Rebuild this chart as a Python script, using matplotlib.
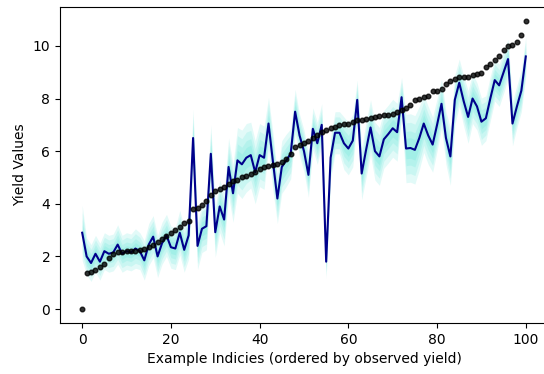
import matplotlib.pyplot as plt
import numpy as np

# observed yields, sorted ascending
observed = [0.0, 1.37, 1.42, 1.5, 1.58, 1.7, 1.93, 2.1, 2.15, 2.17,
            2.19, 2.2, 2.22, 2.25, 2.3, 2.35, 2.45, 2.55, 2.65, 2.78,
            2.9, 3.02, 3.13, 3.27, 3.33, 3.79, 3.84, 3.95, 4.1, 4.33,
            4.5, 4.55, 4.62, 4.75, 4.85, 4.92, 5.0, 5.05, 5.12, 5.2,
            5.33, 5.4, 5.45, 5.48, 5.52, 5.57, 5.7, 5.9, 6.17, 6.22,
            6.3, 6.4, 6.5, 6.63, 6.72, 6.82, 6.88, 6.93, 6.98, 7.02,
            7.05, 7.1, 7.17, 7.2, 7.23, 7.27, 7.3, 7.33, 7.36, 7.38,
            7.42, 7.48, 7.55, 7.65, 7.75, 7.95, 8.0, 8.05, 8.1, 8.28,
            8.3, 8.35, 8.55, 8.65, 8.75, 8.8, 8.82, 8.83, 8.88, 8.93,
            8.98, 9.2, 9.3, 9.47, 9.6, 9.85, 9.98, 10.05, 10.13, 10.42,
            10.95]

# mean prediction
predicted = [2.9, 2.0, 1.75, 2.1, 1.8, 2.2, 2.1, 2.15, 2.45, 2.1,
             2.2, 2.15, 2.3, 2.2, 1.85, 2.45, 2.75, 2.0, 2.5, 2.8,
             2.35, 2.3, 2.9, 2.25, 2.8, 6.5, 2.4, 3.05, 3.15, 5.9,
             2.92, 3.9, 3.4, 5.4, 4.4, 5.65, 5.5, 5.75, 5.85, 5.2,
             5.85, 5.75, 7.05, 5.6, 4.2, 5.4, 5.65, 5.9, 7.5, 6.6,
             6.0, 5.1, 6.85, 6.3, 7.0, 1.8, 5.75, 6.7, 6.7, 6.3,
             6.1, 6.4, 7.95, 5.15, 6.05, 6.9, 6.0, 5.8, 6.45, 6.65,
             6.87, 6.72, 8.05, 6.1, 6.12, 6.05, 6.5, 7.05, 6.6, 6.25,
             7.0, 7.8, 6.5, 5.8, 7.95, 8.6, 7.9, 7.3, 8.0, 7.7,
             7.12, 7.25, 8.0, 8.7, 8.5, 9.0, 9.5, 7.05, 7.7, 8.3,
             9.6]

# half width of the outer uncertainty band
spread = [1.05, 0.7, 0.7, 0.7, 0.7, 0.7, 0.7, 0.7, 0.75, 0.7,
          0.7, 0.7, 0.75, 0.7, 0.75, 0.8, 0.8, 0.8, 0.8, 0.8,
          0.8, 0.8, 0.85, 0.85, 0.9, 1.1, 0.9, 0.9, 0.9, 1.1,
          0.95, 1.0, 1.0, 1.1, 1.1, 1.25, 1.3, 1.3, 1.25, 1.2,
          1.2, 1.2, 1.0, 1.1, 0.95, 1.0, 1.0, 0.95, 0.85, 0.8,
          0.8, 0.85, 0.8, 0.8, 0.8, 0.65, 0.8, 0.8, 0.8, 1.0,
          1.0, 1.0, 0.75, 1.0, 1.05, 1.05, 1.1, 1.1, 1.1, 1.1,
          1.1, 1.1, 0.75, 1.3, 1.3, 1.3, 1.2, 1.1, 1.1, 1.05,
          1.0, 0.95, 1.0, 1.1, 0.95, 0.9, 0.95, 1.0, 0.95, 0.9,
          0.9, 0.85, 0.85, 0.8, 0.8, 0.8, 0.75, 0.85, 0.8, 0.8,
          0.75]

band_levels = [1.0, 0.75, 0.5, 0.3]

idx = np.arange(len(observed))
pred = np.array(predicted)
sd = np.array(spread)

fig = plt.figure(figsize=(5.44, 3.74), dpi=100)
ax = fig.add_axes([0.1103, 0.1364, 0.897, 0.845])

for lvl in band_levels:
    ax.fill_between(idx, pred - lvl * sd, pred + lvl * sd,
                    color='turquoise', alpha=0.15, linewidth=0)
ax.plot(idx, pred, color='darkblue', linewidth=1.5)
ax.scatter(idx, observed, color='black', s=11, alpha=0.8, zorder=3)

ax.set_xlim(-5, 105)
ax.set_ylim(-0.53, 11.48)
ax.set_xlabel('Example Indicies (ordered by observed yield)')
ax.set_ylabel('Yield Values')

fig.savefig('out.png', dpi=100)
